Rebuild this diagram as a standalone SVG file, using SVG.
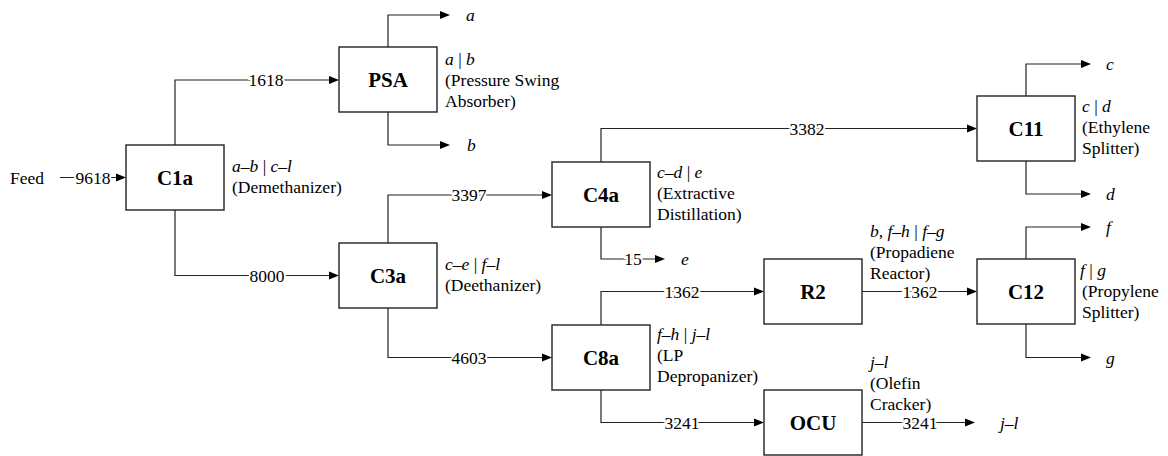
<svg xmlns="http://www.w3.org/2000/svg" width="1168" height="456" viewBox="0 0 1168 456" font-family="Liberation Serif" font-size="17.5">
<style>
.box{fill:#fff;stroke:#222;stroke-width:1.4}
.ln{fill:none;stroke:#222;stroke-width:1.2}
.ah{fill:#000}
</style>
<g id="connectors">
<path class="ln" d="M60,177.5 H117"/><polygon class="ah" points="126,177.5 116,173.5 116,181.5"/>
<path class="ln" d="M175,145 V80 H330"/><polygon class="ah" points="339,80 329,76 329,84"/>
<path class="ln" d="M175,210 V275.5 H330"/><polygon class="ah" points="339,275.5 329,271.5 329,279.5"/>
<path class="ln" d="M388,47 V15 H441"/><polygon class="ah" points="450,15 440,11 440,19"/>
<path class="ln" d="M388,112 V145 H441"/><polygon class="ah" points="450,145 440,141 440,149"/>
<path class="ln" d="M388,243 V195 H543"/><polygon class="ah" points="552,195 542,191 542,199"/>
<path class="ln" d="M388,308 V357.5 H543"/><polygon class="ah" points="552,357.5 542,353.5 542,361.5"/>
<path class="ln" d="M601,162 V128.5 H968"/><polygon class="ah" points="977,128.5 967,124.5 967,132.5"/>
<path class="ln" d="M601,227 V259 H656"/><polygon class="ah" points="665,259 655,255 655,263"/>
<path class="ln" d="M601,325 V291.5 H755"/><polygon class="ah" points="764,291.5 754,287.5 754,295.5"/>
<path class="ln" d="M601,390 V422.5 H755"/><polygon class="ah" points="764,422.5 754,418.5 754,426.5"/>
<path class="ln" d="M862,291.5 H968"/><polygon class="ah" points="977,291.5 967,287.5 967,295.5"/>
<path class="ln" d="M862,422.5 H966"/><polygon class="ah" points="975,422.5 965,418.5 965,426.5"/>
<path class="ln" d="M1026,96 V64 H1082"/><polygon class="ah" points="1091,64 1081,60 1081,68"/>
<path class="ln" d="M1026,161 V194 H1082"/><polygon class="ah" points="1091,194 1081,190 1081,198"/>
<path class="ln" d="M1026,259 V227 H1082"/><polygon class="ah" points="1091,227 1081,223 1081,231"/>
<path class="ln" d="M1026,324 V357.5 H1082"/><polygon class="ah" points="1091,357.5 1081,353.5 1081,361.5"/>
<g text-anchor="middle" stroke="#fff" stroke-width="4" paint-order="stroke">
<text font-family="Liberation Serif" x="93" y="183.5">9618</text>
<text font-family="Liberation Serif" x="266" y="86">1618</text>
<text font-family="Liberation Serif" x="267" y="281.5">8000</text>
<text font-family="Liberation Serif" x="469" y="201">3397</text>
<text font-family="Liberation Serif" x="469" y="363.5">4603</text>
<text font-family="Liberation Serif" x="807" y="134.5">3382</text>
<text font-family="Liberation Serif" x="633" y="265">15</text>
<text font-family="Liberation Serif" x="682" y="297.5">1362</text>
<text font-family="Liberation Serif" x="682" y="428.5">3241</text>
<text font-family="Liberation Serif" x="920" y="297.5">1362</text>
<text font-family="Liberation Serif" x="920" y="428.5">3241</text>
</g>
<g font-style="italic">
<text font-family="Liberation Serif" x="466" y="21">a</text>
<text font-family="Liberation Serif" x="467" y="151">b</text>
<text font-family="Liberation Serif" x="681" y="265">e</text>
<text font-family="Liberation Serif" x="1000" y="428.5">j–l</text>
<text font-family="Liberation Serif" x="1106" y="70">c</text>
<text font-family="Liberation Serif" x="1106" y="200">d</text>
<text font-family="Liberation Serif" x="1106" y="233">f</text>
<text font-family="Liberation Serif" x="1106" y="363.5">g</text>
</g>
<text font-family="Liberation Serif" x="10" y="183.5">Feed</text>
</g>
<g id="C1a">
<rect class="box" x="126" y="145" width="98" height="65"/>
<text font-family="Liberation Serif" font-size="21" font-weight="bold" text-anchor="middle" x="175" y="185">C1a</text>
<text font-family="Liberation Serif" x="232" y="172"><tspan font-style="italic">a–b</tspan> | <tspan font-style="italic">c–l</tspan></text>
<text font-family="Liberation Serif" x="232" y="193">(Demethanizer)</text>
</g>
<g id="PSA">
<rect class="box" x="339" y="47" width="98" height="65"/>
<text font-family="Liberation Serif" font-size="21" font-weight="bold" text-anchor="middle" x="388" y="87">PSA</text>
<text font-family="Liberation Serif" x="445" y="65"><tspan font-style="italic">a</tspan> | <tspan font-style="italic">b</tspan></text>
<text font-family="Liberation Serif" x="445" y="86">(Pressure Swing</text>
<text font-family="Liberation Serif" x="445" y="107">Absorber)</text>
</g>
<g id="C3a">
<rect class="box" x="339" y="243" width="98" height="65"/>
<text font-family="Liberation Serif" font-size="21" font-weight="bold" text-anchor="middle" x="388" y="283">C3a</text>
<text font-family="Liberation Serif" x="445" y="270"><tspan font-style="italic">c–e</tspan> | <tspan font-style="italic">f–l</tspan></text>
<text font-family="Liberation Serif" x="445" y="291">(Deethanizer)</text>
</g>
<g id="C4a">
<rect class="box" x="552" y="162" width="98" height="65"/>
<text font-family="Liberation Serif" font-size="21" font-weight="bold" text-anchor="middle" x="601" y="202">C4a</text>
<text font-family="Liberation Serif" x="657" y="178"><tspan font-style="italic">c–d</tspan> | <tspan font-style="italic">e</tspan></text>
<text font-family="Liberation Serif" x="657" y="199">(Extractive</text>
<text font-family="Liberation Serif" x="657" y="220">Distillation)</text>
</g>
<g id="C8a">
<rect class="box" x="552" y="325" width="98" height="65"/>
<text font-family="Liberation Serif" font-size="21" font-weight="bold" text-anchor="middle" x="601" y="365">C8a</text>
<text font-family="Liberation Serif" x="657" y="340"><tspan font-style="italic">f–h</tspan> | <tspan font-style="italic">j–l</tspan></text>
<text font-family="Liberation Serif" x="657" y="361">(LP</text>
<text font-family="Liberation Serif" x="657" y="382">Depropanizer)</text>
</g>
<g id="C11">
<rect class="box" x="977" y="96" width="98" height="65"/>
<text font-family="Liberation Serif" font-size="21" font-weight="bold" text-anchor="middle" x="1026" y="136">C11</text>
<text font-family="Liberation Serif" x="1082" y="112"><tspan font-style="italic">c</tspan> | <tspan font-style="italic">d</tspan></text>
<text font-family="Liberation Serif" x="1082" y="133">(Ethylene</text>
<text font-family="Liberation Serif" x="1082" y="154">Splitter)</text>
</g>
<g id="R2">
<rect class="box" x="764" y="259" width="98" height="65"/>
<text font-family="Liberation Serif" font-size="21" font-weight="bold" text-anchor="middle" x="813" y="299">R2</text>
<text font-family="Liberation Serif" x="870" y="237"><tspan font-style="italic">b</tspan>, <tspan font-style="italic">f–h</tspan> | <tspan font-style="italic">f–g</tspan></text>
<text font-family="Liberation Serif" x="870" y="258">(Propadiene</text>
<text font-family="Liberation Serif" x="870" y="279">Reactor)</text>
</g>
<g id="C12">
<rect class="box" x="977" y="259" width="98" height="65"/>
<text font-family="Liberation Serif" font-size="21" font-weight="bold" text-anchor="middle" x="1026" y="299">C12</text>
<text font-family="Liberation Serif" x="1080" y="276"><tspan font-style="italic">f</tspan> | <tspan font-style="italic">g</tspan></text>
<text font-family="Liberation Serif" x="1082" y="297">(Propylene</text>
<text font-family="Liberation Serif" x="1082" y="318">Splitter)</text>
</g>
<g id="OCU">
<rect class="box" x="764" y="390" width="98" height="65"/>
<text font-family="Liberation Serif" font-size="21" font-weight="bold" text-anchor="middle" x="813" y="430">OCU</text>
<text font-family="Liberation Serif" font-style="italic" x="870" y="368">j–l</text>
<text font-family="Liberation Serif" x="870" y="389">(Olefin</text>
<text font-family="Liberation Serif" x="870" y="410">Cracker)</text>
</g>
</svg>
